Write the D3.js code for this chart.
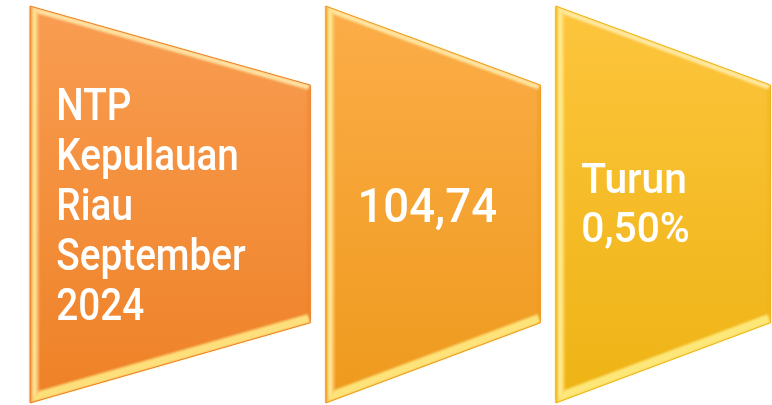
<!DOCTYPE html>
<html>
<head>
<meta charset="utf-8">
<script src="https://cdn.jsdelivr.net/npm/d3@7"></script>
<style>
  body { margin: 0; background: #fff; }
  svg { display: block; }
</style>
</head>
<body>
<div id="chart"></div>
<script>
"use strict";

// panel content
var panels = ["ntp", "nilai", "perubahan"];
var panelLines = [
  ["NTP", "Kepulauan", "Riau", "September", "2024"],
  ["104,74"],
  ["Turun", "0,50%"]
];
var panelTop = ["#F99D52", "#FCAD48", "#FDC53D"];
var panelBottom = ["#EE8126", "#EE9A1D", "#EEB314"];

var width = 772, height = 405;

var svg = d3.select("#chart").append("svg")
  .attr("width", width)
  .attr("height", height);

var defs = svg.append("defs");
defs.append("filter").attr("id", "soft")
  .append("feGaussianBlur").attr("stdDeviation", 1.2);

// horizontal placement of each panel (left edge, right edge)
var x = d3.scaleLinear().domain([0, 1]).range([0, width]);
var y = d3.scaleLinear().domain([0, 1]).range([0, height]);
var spans = [[0.039, 0.402], [0.422, 0.700], [0.720, 0.998]];
// vertical profile: left edge full height, right edge shorter
var leftY = [0.015, 0.995], rightY = [0.21, 0.797];

function outline(i) {
  var l = x(spans[i][0]), r = x(spans[i][1]);
  return [[l, y(leftY[0])], [r, y(rightY[0])], [r, y(rightY[1])], [l, y(leftY[1])]];
}

// offset each edge inward by its own distance and intersect
function inset(pts, d) {
  var n = pts.length, lines = [];
  for (var k = 0; k < n; k++) {
    var a = pts[k], b = pts[(k + 1) % n];
    var dx = b[0] - a[0], dy = b[1] - a[1], len = Math.hypot(dx, dy);
    var nx = -dy / len, ny = dx / len;
    lines.push([[a[0] + nx * d[k], a[1] + ny * d[k]], [b[0] + nx * d[k], b[1] + ny * d[k]]]);
  }
  var out = [];
  for (var k2 = 0; k2 < n; k2++) {
    var p = lines[(k2 + n - 1) % n], q = lines[k2];
    var x1 = p[0][0], y1 = p[0][1], x2 = p[1][0], y2 = p[1][1];
    var x3 = q[0][0], y3 = q[0][1], x4 = q[1][0], y4 = q[1][1];
    var den = (x1 - x2) * (y3 - y4) - (y1 - y2) * (x3 - x4);
    var t = ((x1 - x3) * (y3 - y4) - (y1 - y3) * (x3 - x4)) / den;
    out.push([x1 + t * (x2 - x1), y1 + t * (y2 - y1)]);
  }
  return out;
}

var line = d3.line().curve(d3.curveLinearClosed);

panels.forEach(function(id, i) {
  var pts = outline(i);
  var inner = inset(pts, [5, 3, 9, 9]);
  var g = svg.append("g").attr("class", "panel " + id);

  var grad = defs.append("linearGradient").attr("id", "fill" + i)
    .attr("x1", 0).attr("y1", 0).attr("x2", 0).attr("y2", 1);
  grad.append("stop").attr("offset", 0).attr("stop-color", panelTop[i]);
  grad.append("stop").attr("offset", 1).attr("stop-color", panelBottom[i]);

  var lg = defs.append("linearGradient").attr("id", "left" + i)
    .attr("x1", 0).attr("y1", 0).attr("x2", 1).attr("y2", 0);
  lg.append("stop").attr("offset", 0).attr("stop-color", panelBottom[i]);
  lg.append("stop").attr("offset", 0.45).attr("stop-color", "#FFF4A0");
  lg.append("stop").attr("offset", 1).attr("stop-color", panelTop[i]);

  var bg = defs.append("linearGradient").attr("id", "bot" + i)
    .attr("x1", 0).attr("y1", 0).attr("x2", 0).attr("y2", 1);
  bg.append("stop").attr("offset", 0).attr("stop-color", panelBottom[i]);
  bg.append("stop").attr("offset", 0.5).attr("stop-color", "#FFF28A");
  bg.append("stop").attr("offset", 1).attr("stop-color", panelBottom[i]);

  g.append("path").attr("d", line(pts)).attr("fill", "url(#fill" + i + ")");

  // bevel strips: top, right, bottom, left
  var strip = function(k) {
    return [pts[k], pts[(k + 1) % 4], inner[(k + 1) % 4], inner[k]];
  };
  var bevel = g.append("g").attr("filter", "url(#soft)");
  bevel.append("path").attr("d", line(strip(0))).attr("fill", "#FFEFB0").attr("opacity", 0.85);
  bevel.append("path").attr("d", line(strip(1))).attr("fill", panelBottom[i]).attr("opacity", 0.5);
  bevel.append("path").attr("d", line(strip(2))).attr("fill", "#FFF08A").attr("opacity", 0.85);
  bevel.append("path").attr("d", line(strip(3))).attr("fill", "url(#left" + i + ")");
  g.append("path").attr("d", line(pts)).attr("fill", "none")
    .attr("stroke", panelBottom[i]).attr("stroke-width", 1);
});

// text blocks
var textCfg = [
  {x: 0.073, y: 0.296, size: 45, lh: 50, sx: 0.86},
  {x: 0.463, y: 0.548, size: 49, lh: 50, sx: 0.93},
  {x: 0.753, y: 0.477, size: 42, lh: 49, sx: 0.97}
];

panelLines.forEach(function(lines, i) {
  var c = textCfg[i], tx = x(c.x);
  var t = svg.append("text")
    .attr("transform", "translate(" + tx + "," + y(c.y) + ") scale(" + c.sx + ",1)")
    .attr("fill", "#fff")
    .style("font-family", "Roboto, sans-serif")
    .style("font-weight", 500)
    .style("font-size", c.size + "px");
  t.selectAll("tspan").data(lines).enter().append("tspan")
    .attr("x", 0)
    .attr("dy", function(d, j) { return j === 0 ? 0 : c.lh; })
    .text(function(d) { return d; });
});
</script>
</body>
</html>
